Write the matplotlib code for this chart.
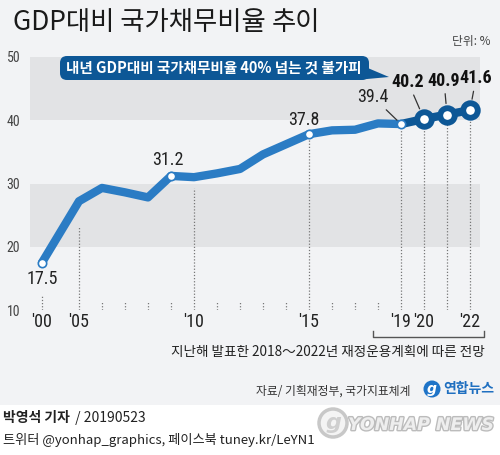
import matplotlib
matplotlib.use("Agg")
import matplotlib.pyplot as plt
import matplotlib.patheffects as pe
from matplotlib import font_manager
from matplotlib.patches import FancyBboxPatch, Polygon, Circle, Rectangle

plt.rcParams['font.family'] = ['Noto Sans CJK KR', 'DejaVu Sans']

# narrow face for the numbers, whichever is installed
installed = {f.name for f in font_manager.fontManager.ttflist}
NUM_FONT = 'DejaVu Sans'
for cand in ['Liberation Sans Narrow', 'Roboto Condensed', 'Open Sans Condensed', 'Roboto']:
    if cand in installed:
        NUM_FONT = cand
        break
NARROW = NUM_FONT != 'Roboto'

# data
years = [2000, 2005, 2006, 2007, 2008, 2009, 2010, 2011, 2012, 2013, 2014,
         2015, 2016, 2017, 2018, 2019, 2020, 2021, 2022]
ratio = [17.5, 27.2, 29.3, 28.6, 27.8, 31.2, 31.0, 31.6, 32.3, 34.6, 36.2,
         37.8, 38.4, 38.5, 39.5, 39.4, 40.2, 40.9, 41.6]
forecast_years = [2020, 2021, 2022]
marked_years = [2000, 2009, 2015, 2019]
labeled = {2000: '17.5', 2009: '31.2', 2015: '37.8', 2019: '39.4'}
labeled_bold = {2020: '40.2', 2021: '40.9', 2022: '41.6'}
tick_years = [2000, 2005, 2010, 2015, 2019, 2020, 2022]
tick_labels = ["'00", "'05", "'10", "'15", "'19", "'20", "'22"]
long_dot_years = {2000: 12.3, 2005: 23.3, 2010: 29.3, 2015: 36.8,
                  2019: 38.6, 2020: 39.0, 2021: 39.7, 2022: 40.4}

BG = '#f2f3f5'
BAND = '#e2e3e5'
BLUE = '#2b7cc4'
DARK = '#0d5796'

lab_size = 13 if NARROW else 11.5
bold_size = 13 if NARROW else 11
tick_size = 13 if NARROW else 11


def pos(y):
    # the 2000-2005 gap is squeezed on the original axis
    if y >= 2005:
        return y
    return 2005 - (37 / 23) * (2005 - y) / 5


val = dict(zip(years, ratio))
xs = [pos(y) for y in years]

fig = plt.figure(figsize=(5, 4.55), dpi=100)
fig.patch.set_facecolor('white')

# background layer (pixel coords)
bg = fig.add_axes([0, 0, 1, 1], zorder=0)
bg.set_xlim(0, 500)
bg.set_ylim(455, 0)
bg.axis('off')
bg.add_patch(Rectangle((0, 0), 500, 405, color=BG, lw=0))

# data axes
ax = fig.add_axes([30 / 500, 1 - 310 / 455, 450 / 500, 253 / 455], zorder=1)
ax.set_facecolor('none')
ax.set_xlim(2005 - 49 / 23, 2005 + 401 / 23)
ax.set_ylim(10, 50)
for s in ax.spines.values():
    s.set_visible(False)
ax.axhspan(20, 30, color=BAND, lw=0, zorder=0)
ax.axhspan(40, 50, color=BAND, lw=0, zorder=0)

# dotted year guides
for y in years:
    if y in long_dot_years:
        top = long_dot_years[y]
    else:
        top = 11.3
    ax.plot([pos(y), pos(y)], [10, top], ls=(0, (1, 1.5)), color='#777777', lw=0.9, zorder=1)

# main line
hist = [i for i, y in enumerate(years) if y <= 2019]
ax.plot([xs[i] for i in hist], [ratio[i] for i in hist], color=BLUE, lw=6,
        solid_capstyle='round', solid_joinstyle='round', zorder=2)
fc = [i for i, y in enumerate(years) if y >= 2019]
ax.plot([xs[i] for i in fc], [ratio[i] for i in fc], color=DARK, lw=6,
        solid_capstyle='round', zorder=2)
ax.plot([pos(y) for y in marked_years], [val[y] for y in marked_years], 'o',
        ms=6, mfc='white', mec=BLUE, mew=1.2, zorder=3)
ax.plot([pos(y) for y in forecast_years], [val[y] for y in forecast_years], 'o',
        ms=10.5, mfc='white', mec=DARK, mew=4.2, zorder=4)

# value labels
offsets = {2000: (0, -16), 2009: (-3, 16), 2015: (-5, 14), 2019: (-28, 27)}
for y, t in labeled.items():
    ap = None
    if y == 2019:
        ap = dict(arrowstyle='-', color='#333333', lw=0.9, shrinkA=1, shrinkB=4)
    ax.annotate(t, (pos(y), val[y]), xytext=offsets[y], textcoords='offset pixels',
                ha='center', va='center', fontsize=lab_size, family=NUM_FONT, color='#222222',
                arrowprops=ap, zorder=5)
bold_offsets = {2020: (-16, 37), 2021: (-3, 34), 2022: (6, 32)}
for y, t in labeled_bold.items():
    ax.annotate(t, (pos(y), val[y]), xytext=bold_offsets[y], textcoords='offset pixels',
                ha='center', va='center', fontsize=bold_size, family=NUM_FONT, weight='bold',
                color='#111111',
                arrowprops=dict(arrowstyle='-', color='#333333', lw=0.9, shrinkA=1, shrinkB=8),
                zorder=5)

# ticks
ax.set_yticks([10, 20, 30, 40, 50])
ax.set_yticklabels(['10', '20', '30', '40', '50'], family=NUM_FONT, fontsize=10, color='#444444')
ax.set_xticks([pos(y) for y in tick_years])
ax.set_xticklabels(tick_labels, family=NUM_FONT, fontsize=tick_size, color='#222222')
ax.tick_params(axis='y', length=0, pad=7)
ax.tick_params(axis='x', length=0, pad=2)

# bracket for plan years
bx0, bx1, by0, by1 = 2017.8, 2022.6, 5.7, 6.7
ax.plot([bx0, bx0, bx1, bx1], [by1, by0, by0, by1], color='#555555', lw=1, clip_on=False)

# foreground layer (pixel coords)
fg = fig.add_axes([0, 0, 1, 1], zorder=5)
fg.set_facecolor('none')
fg.set_xlim(0, 500)
fg.set_ylim(455, 0)
fg.axis('off')

fig.canvas.draw()
rend = fig.canvas.get_renderer()

t1 = fg.text(13, 22, 'GDP대비 국가채무비율', fontsize=19, color='#1a1a1a', va='center')
bb = t1.get_window_extent(rend)
fg.text(bb.x1 + 6, 22, '추이', fontsize=19, color='#1a1a1a', weight='light', va='center')
fg.text(490, 41, '단위: %', fontsize=8.5, color='#444444', ha='right', va='center')

# callout
fg.add_patch(Polygon([(356, 63), (356, 80), (389, 77)], closed=True, color=DARK, lw=0))
fg.add_patch(FancyBboxPatch((60, 56), 309, 24, boxstyle='round,pad=0,rounding_size=7',
                            color=DARK, lw=0))
fg.text(214, 68, '내년 GDP대비 국가채무비율 40% 넘는 것 불가피', fontsize=10.5,
        color='white', weight='bold', ha='center', va='center')

fg.text(485, 352, '지난해 발표한 2018～2022년 재정운용계획에 따른 전망', fontsize=9.8,
        color='#222222', ha='right', va='center')
fg.text(410, 391, '자료/ 기획재정부, 국가지표체계', fontsize=8.5, color='#333333',
        ha='right', va='center')

# yonhap logo
fg.add_patch(Circle((432, 389), 8.5, color='#1f74c8', lw=0))
fg.text(432, 389, 'g', fontsize=10, color='white', style='italic', weight='bold',
        ha='center', va='center', family='DejaVu Sans')
fg.text(443, 389, '연합뉴스', fontsize=10, color='#1f6fc0', weight='bold', va='center')

# footer
t2 = fg.text(3, 418, '박영석 기자', fontsize=10, color='#222222', weight='bold', va='center')
bb2 = t2.get_window_extent(rend)
fg.text(bb2.x1 + 2, 418, ' / 20190523', fontsize=10, color='#222222', va='center')
fg.text(3, 440, '트위터 @yonhap_graphics, 페이스북 tuney.kr/LeYN1', fontsize=9.5,
        color='#222222', va='center')

# watermark
fg.add_patch(Circle((333, 423), 14, facecolor='#f4f4f4', edgecolor='#c8c8c8', lw=2.5))
fg.text(333, 423, 'g', fontsize=16, color='#cfcfcf', style='italic', weight='bold',
        ha='center', va='center', family='DejaVu Sans')
fg.text(421, 425, 'YONHAP NEWS', fontsize=12.5, color='#eeeeee', weight='bold',
        style='italic', ha='center', va='center', family='DejaVu Sans',
        path_effects=[pe.withStroke(linewidth=2, foreground='#bcbcbc')])

fig.savefig('out.png', dpi=100, facecolor=fig.get_facecolor())
